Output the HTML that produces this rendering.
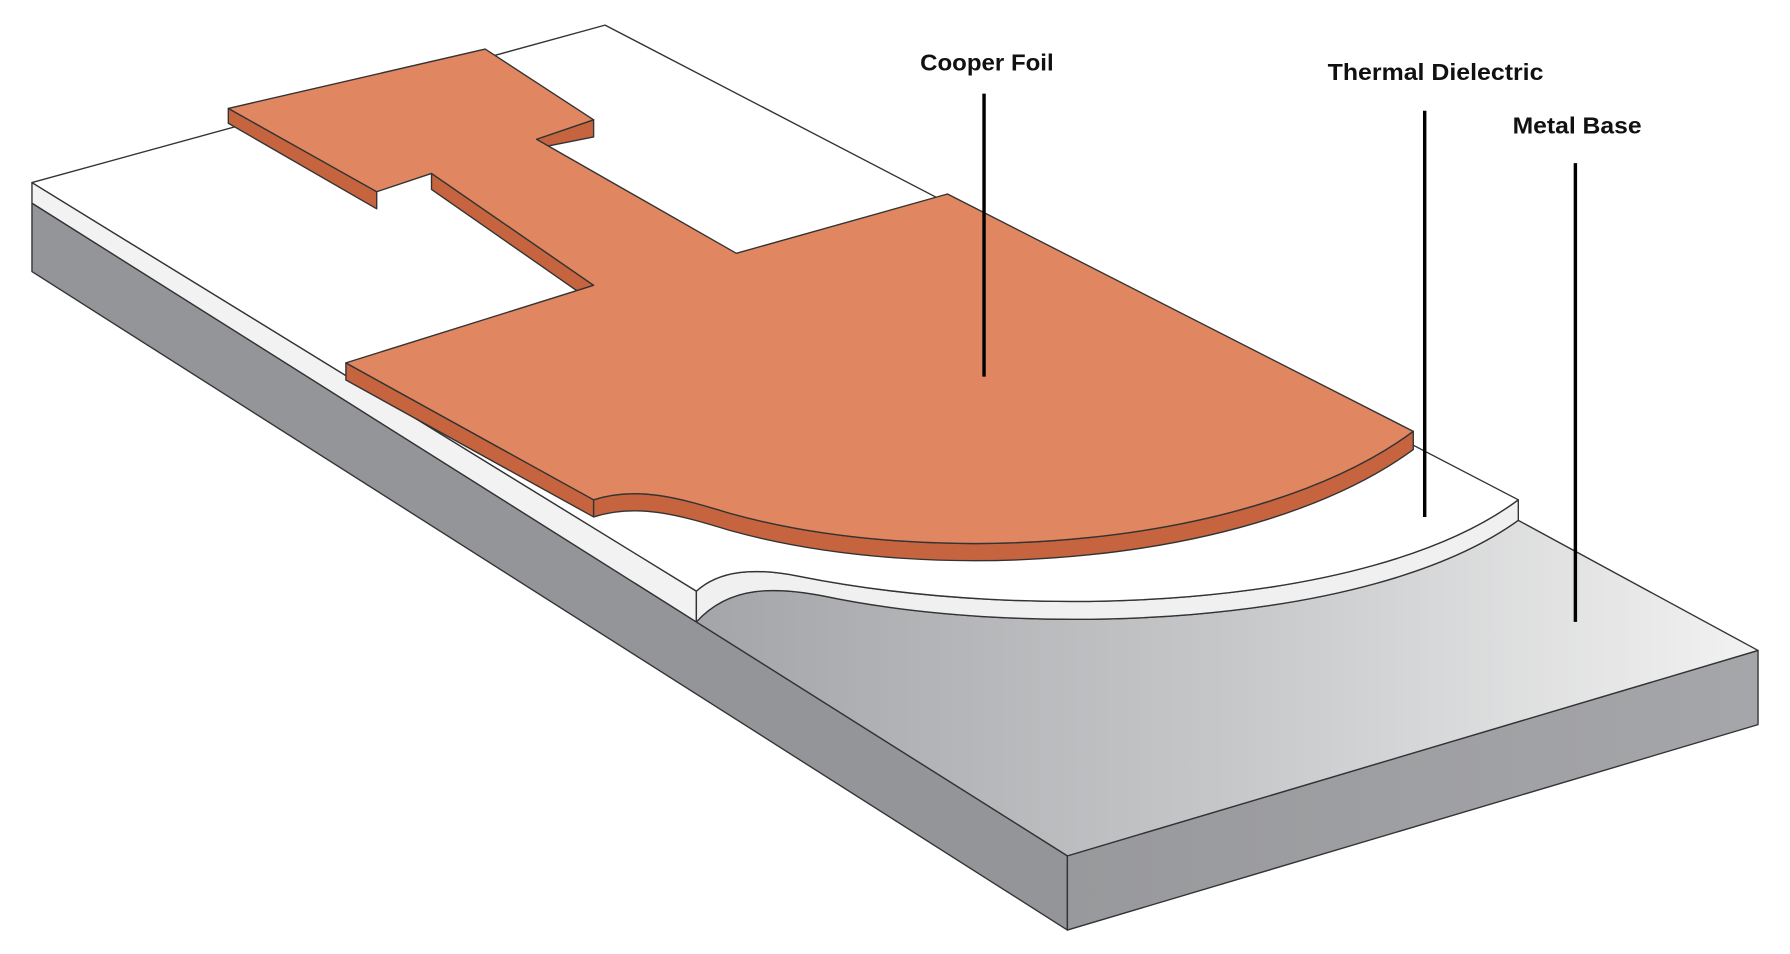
<!DOCTYPE html>
<html><head><meta charset="utf-8"><style>
html,body{margin:0;padding:0;background:#fff;width:1790px;height:954px;overflow:hidden}
svg{display:block}
</style></head><body>
<svg width="1790" height="954" viewBox="0 0 1568 836" preserveAspectRatio="none" xmlns="http://www.w3.org/2000/svg">
<defs>
<linearGradient id="mt" x1="0" y1="0" x2="1" y2="0">
<stop offset="0" stop-color="#a4a5a8"/><stop offset="0.5" stop-color="#c6c7c9"/><stop offset="1" stop-color="#f2f2f2"/>
</linearGradient>
<linearGradient id="fr" x1="0" y1="0" x2="1" y2="0">
<stop offset="0" stop-color="#98999c"/><stop offset="1" stop-color="#a5a6a9"/>
</linearGradient>
</defs>
<g stroke="#333" stroke-width="1.2" stroke-linejoin="round">
<polygon points="28,178 28,238 935,815 935,750" fill="#949598"/>
<polygon points="935,750 1540,570 1540,635 935,815" fill="url(#fr)"/>
<path d="M610,545 C640,512 680,515 720,522 C900,560 1200,550 1330,456 L1540,570 L935,750 Z" fill="url(#mt)"/>
<polygon points="28,160 28,178 610,545 610,518" fill="#f2f2f2"/>
<path d="M610,518 C630,500 660,497 700,505 C900,545 1200,535 1330,438 L1330,456 C1200,550 900,560 720,522 C680,515 640,512 610,545 Z" fill="#f0f0f0"/>
<path d="M28,160 L530,22 L1330,438 C1200,535 900,545 700,505 C660,497 630,500 610,518 Z" fill="#ffffff"/>
<polygon points="200,95 200,108 330,183 330,168" fill="#c5643f"/>
<polygon points="378,152 378,166 520,265 520,250" fill="#c5643f"/>
<polygon points="303,318 303,333 520,453 520,438" fill="#c5643f"/>
<path d="M520,438 C560,425 600,438 640,450 C820,500 1100,480 1238,378 L1238,394 C1100,495 820,515 640,465 C600,453 560,440 520,453 Z" fill="#c5643f"/>
<polygon points="470,122 470,130 520,120 520,105" fill="#c5643f"/>
<path d="M200,95 L425,43 L520,105 L470,122 L645,222 L830,170 L1238,378 C1100,480 820,500 640,450 C600,438 560,425 520,438 L303,318 L520,250 L378,152 L330,168 Z" fill="#e08660"/>
</g>
<g stroke="#000" stroke-width="3">
<line x1="862" y1="82" x2="862" y2="330"/>
<line x1="1248" y1="97" x2="1248" y2="453"/>
<line x1="1380" y1="143" x2="1380" y2="545"/>
</g>
<g font-family="Liberation Sans, sans-serif" font-weight="bold" font-size="20" fill="#111">
<text x="806" y="62" textLength="117" lengthAdjust="spacingAndGlyphs">Cooper Foil</text>
<text x="1163" y="70" textLength="189" lengthAdjust="spacingAndGlyphs">Thermal Dielectric</text>
<text x="1325" y="117" textLength="113" lengthAdjust="spacingAndGlyphs">Metal Base</text>
</g>
</svg>
</body></html>
